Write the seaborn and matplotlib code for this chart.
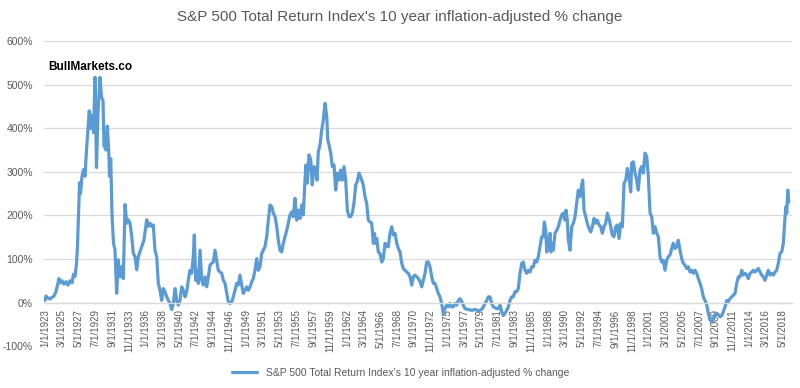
import numpy as np
import pandas as pd
import matplotlib
matplotlib.use("Agg")
import matplotlib.pyplot as plt
import seaborn as sns
from matplotlib.ticker import FuncFormatter

title = "S&P 500 Total Return Index's 10 year inflation-adjusted % change"
series_name = "S&P 500 Total Return Index's 10 year inflation-adjusted % change"
watermark = "BullMarkets.co"

# values (decimal year, % change)
years = [
    1923.00, 1923.13, 1923.39, 1923.65, 1923.90, 1924.16, 1924.42, 1924.62, 1924.81, 1924.94,
    1925.20, 1925.45, 1925.71, 1925.97, 1926.23, 1926.49, 1926.68, 1926.88, 1927.07, 1927.20,
    1927.33, 1927.46, 1927.59, 1927.78, 1927.97, 1928.17, 1928.36, 1928.56, 1928.72, 1928.88,
    1929.07, 1929.27, 1929.46, 1929.65, 1929.85, 1930.11, 1930.30, 1930.49, 1930.62, 1930.88,
    1931.05, 1931.23, 1931.33, 1931.49, 1931.66, 1931.85, 1932.04, 1932.26, 1932.47, 1932.69,
    1932.91, 1933.12, 1933.34, 1933.56, 1933.76, 1933.98, 1934.20, 1934.41, 1934.63, 1934.85,
    1935.05, 1935.49, 1935.79, 1936.14, 1936.35, 1936.57, 1936.79, 1936.99, 1937.21, 1937.43,
    1937.64, 1937.86, 1938.08, 1938.28, 1938.50, 1938.72, 1938.93, 1939.15, 1939.37, 1939.58,
    1939.80, 1940.02, 1940.22, 1940.44, 1940.66, 1940.87, 1941.09, 1941.31, 1941.51, 1941.73,
    1941.95, 1942.16, 1942.29, 1942.47, 1942.60, 1942.81, 1943.03, 1943.25, 1943.45, 1943.67,
    1943.89, 1944.10, 1944.32, 1944.54, 1944.74, 1944.96, 1945.18, 1945.39, 1945.61, 1945.83,
    1946.04, 1946.26, 1946.48, 1946.68, 1946.90, 1947.12, 1947.33, 1947.55, 1947.77, 1947.97,
    1948.19, 1948.41, 1948.62, 1948.84, 1949.06, 1949.27, 1949.49, 1949.71, 1949.91, 1950.13,
    1950.35, 1950.56, 1950.78, 1951.00, 1951.20, 1951.42, 1951.64, 1951.85, 1952.07, 1952.29,
    1952.50, 1952.72, 1952.94, 1953.14, 1953.36, 1953.58, 1953.79, 1954.01, 1954.23, 1954.43,
    1954.65, 1954.87, 1955.08, 1955.30, 1955.52, 1955.73, 1955.95, 1956.17, 1956.37, 1956.59,
    1956.72, 1956.89, 1957.11, 1957.33, 1957.53, 1957.75, 1957.97, 1958.14, 1958.31, 1958.53,
    1958.75, 1958.96, 1959.18, 1959.40, 1959.53, 1959.69, 1959.91, 1960.12, 1960.34, 1960.56,
    1960.76, 1960.98, 1961.20, 1961.41, 1961.63, 1961.85, 1962.06, 1962.28, 1962.50, 1962.70,
    1962.92, 1963.14, 1963.35, 1963.57, 1963.92, 1964.12, 1964.34, 1964.56, 1964.77, 1964.99,
    1965.21, 1965.42, 1965.55, 1965.73, 1965.86, 1966.06, 1966.28, 1966.50, 1966.71, 1966.93,
    1967.15, 1967.35, 1967.57, 1967.79, 1968.00, 1968.22, 1968.44, 1968.65, 1968.87, 1969.09,
    1969.29, 1969.51, 1969.73, 1969.94, 1970.16, 1970.38, 1970.58, 1970.80, 1971.02, 1971.23,
    1971.45, 1971.67, 1971.88, 1972.10, 1972.31, 1972.52, 1972.74, 1972.96, 1973.17, 1973.39,
    1973.61, 1973.81, 1974.03, 1974.25, 1974.46, 1974.68, 1974.90, 1975.11, 1975.33, 1975.54,
    1975.75, 1975.97, 1976.19, 1976.40, 1976.62, 1976.84, 1977.04, 1977.26, 1977.69, 1978.13,
    1978.56, 1978.98, 1979.42, 1979.63, 1979.85, 1980.07, 1980.27, 1980.49, 1980.71, 1980.92,
    1981.14, 1981.36, 1981.57, 1981.79, 1982.01, 1982.21, 1982.43, 1982.65, 1982.86, 1983.08,
    1983.30, 1983.50, 1983.72, 1983.94, 1984.15, 1984.37, 1984.59, 1984.79, 1985.01, 1985.23,
    1985.44, 1985.66, 1985.88, 1986.09, 1986.31, 1986.53, 1986.73, 1986.95, 1987.17, 1987.38,
    1987.51, 1987.69, 1987.82, 1988.03, 1988.25, 1988.37, 1988.54, 1988.67, 1988.89, 1989.11,
    1989.32, 1989.54, 1989.76, 1989.96, 1990.18, 1990.31, 1990.48, 1990.61, 1990.83, 1991.05,
    1991.26, 1991.48, 1991.70, 1991.90, 1992.12, 1992.34, 1992.47, 1992.64, 1992.86, 1993.06,
    1993.28, 1993.50, 1993.71, 1993.93, 1994.15, 1994.36, 1994.58, 1994.80, 1995.00, 1995.22,
    1995.44, 1995.65, 1995.87, 1996.09, 1996.29, 1996.51, 1996.73, 1996.94, 1997.16, 1997.38,
    1997.59, 1997.81, 1998.03, 1998.24, 1998.45, 1998.67, 1998.80, 1999.01, 1999.23, 1999.45,
    1999.65, 1999.87, 2000.09, 2000.30, 2000.52, 2000.74, 2000.95, 2001.17, 2001.39, 2001.59,
    2001.81, 2002.03, 2002.24, 2002.46, 2002.68, 2002.88, 2003.10, 2003.32, 2003.53, 2003.75,
    2003.97, 2004.17, 2004.39, 2004.61, 2004.82, 2005.04, 2005.26, 2005.46, 2005.68, 2005.90,
    2006.11, 2006.33, 2006.55, 2006.76, 2006.98, 2007.20, 2007.41, 2007.63, 2007.84, 2008.05,
    2008.27, 2008.49, 2008.70, 2008.92, 2009.14, 2009.35, 2009.56, 2009.78, 2009.99, 2010.21,
    2010.43, 2010.64, 2010.86, 2011.08, 2011.28, 2011.50, 2011.72, 2011.93, 2012.15, 2012.37,
    2012.58, 2012.80, 2013.02, 2013.22, 2013.44, 2013.66, 2013.87, 2014.09, 2014.31, 2014.51,
    2014.73, 2014.95, 2015.16, 2015.38, 2015.59, 2015.80, 2016.02, 2016.24, 2016.45, 2016.67,
    2016.89, 2017.10, 2017.32, 2017.53, 2017.74, 2017.96, 2018.18, 2018.39, 2018.61, 2018.74,
    2018.83, 2018.96, 2019.09,
]

pct = [
    5, 15, 10, 8, 12, 15, 25, 40, 55, 45,
    50, 42, 48, 40, 50, 45, 65, 60, 90, 130,
    200, 275, 250, 290, 305, 290, 350, 400, 440, 400,
    430, 390, 517, 310, 440, 517, 470, 465, 360, 350,
    405, 350, 290, 330, 200, 136, 121, 21, 98, 59,
    82, 55, 225, 182, 190, 182, 152, 113, 105, 75,
    105, 128, 144, 190, 175, 182, 175, 178, 120, 105,
    44, 28, 5, 32, 25, 13, 5, -2, -16, -2,
    32, 5, -6, 5, 36, 28, 13, 25, 51, 74,
    67, 105, 155, 51, 74, 44, 120, 51, 40, 59,
    36, 59, 86, 90, 93, 120, 97, 74, 70, 67,
    51, 44, 21, 2, -2, 2, 13, 28, 44, 40,
    63, 40, 21, 28, 36, 28, 36, 48, 55, 74,
    101, 74, 82, 113, 120, 128, 151, 189, 224, 220,
    205, 197, 174, 143, 120, 116, 136, 151, 166, 182,
    201, 208, 197, 239, 189, 212, 193, 224, 201, 281,
    316, 274, 339, 328, 270, 312, 305, 281, 346, 362,
    396, 419, 457, 427, 373, 362, 343, 312, 316, 258,
    297, 281, 304, 281, 312, 281, 212, 197, 197, 205,
    228, 270, 278, 297, 281, 270, 243, 228, 189, 185,
    182, 136, 159, 136, 147, 116, 113, 93, 101, 136,
    128, 128, 159, 174, 155, 159, 136, 124, 116, 90,
    78, 74, 70, 67, 59, 40, 59, 63, 59, 55,
    48, 36, 51, 67, 93, 93, 82, 59, 44, 44,
    32, 21, 13, -2, -25, -14, -6, -10, -2, -10,
    -10, -2, -6, 5, 9, 2, -6, -14, -16, -18,
    -16, -19, -16, -10, -2, 5, 13, 13, -2, -10,
    -12, -14, -14, -6, -21, -30, -25, -18, -10, 5,
    13, 13, 25, 25, 32, 67, 90, 93, 74, 67,
    74, 70, 82, 82, 97, 93, 105, 128, 151, 151,
    185, 166, 116, 136, 159, 116, 136, 120, 159, 166,
    174, 189, 201, 205, 189, 212, 189, 143, 120, 174,
    182, 197, 228, 258, 243, 270, 281, 212, 197, 182,
    170, 162, 174, 193, 182, 189, 178, 174, 159, 174,
    182, 205, 193, 174, 155, 151, 174, 178, 147, 182,
    174, 274, 281, 308, 290, 254, 320, 323, 297, 281,
    258, 304, 312, 297, 343, 335, 289, 205, 197, 159,
    174, 159, 151, 105, 93, 97, 74, 97, 105, 109,
    124, 136, 124, 128, 143, 120, 101, 90, 86, 78,
    82, 70, 74, 67, 74, 67, 55, 44, 32, 13,
    5, -5, -25, -40, -45, -38, -30, -25, -28, -33,
    -30, -21, -10, 5, 2, 9, 13, 17, 21, 44,
    59, 59, 74, 63, 67, 63, 55, 67, 70, 74,
    70, 74, 78, 70, 63, 59, 51, 63, 74, 63,
    67, 63, 70, 74, 90, 113, 116, 136, 197, 220,
    205, 258, 231,
]

tick_labels = [
    "1/1/1923", "3/1/1925", "5/1/1927", "7/1/1929", "9/1/1931", "11/1/1933",
    "1/1/1936", "3/1/1938", "5/1/1940", "7/1/1942", "9/1/1944", "11/1/1946",
    "1/1/1949", "3/1/1951", "5/1/1953", "7/1/1955", "9/1/1957", "11/1/1959",
    "1/1/1962", "3/1/1964", "5/1/1966", "7/1/1968", "9/1/1970", "11/1/1972",
    "1/1/1975", "3/1/1977", "5/1/1979", "7/1/1981", "9/1/1983", "11/1/1985",
    "1/1/1988", "3/1/1990", "5/1/1992", "7/1/1994", "9/1/1996", "11/1/1998",
    "1/1/2001", "3/1/2003", "5/1/2005", "7/1/2007", "9/1/2009", "11/1/2011",
    "1/1/2014", "3/1/2016", "5/1/2018",
]


def label_year(s):
    m, d, y = s.split("/")
    return int(y) + (int(m) - 1) / 12


df = pd.DataFrame({"year": years, "pct": pct})

sns.set_style("white")
plt.rcParams["font.family"] = ["Liberation Sans", "DejaVu Sans"]

grey = "#595959"
blue = "#5B9BD5"

fig = plt.figure(figsize=(8, 3.88), dpi=100)
ax = fig.add_axes([0.055, 0.108, 0.935, 0.786])

sns.lineplot(data=df, x="year", y="pct", ax=ax, color=blue, linewidth=2.3,
             label=series_name)

ax.set_xlim(1922.87, 2019.51)
ax.set_ylim(-100, 600)
ax.set_yticks(np.arange(-100, 601, 100))
ax.yaxis.set_major_formatter(FuncFormatter(lambda v, p: f"{v:.0f}%"))
ax.grid(axis="y", color="#d9d9d9", linewidth=0.9)
ax.grid(axis="x", visible=False)
ax.set_axisbelow(True)

for s in ["top", "right", "left"]:
    ax.spines[s].set_visible(False)
ax.spines["bottom"].set_position(("data", 0))
ax.spines["bottom"].set_color("#d9d9d9")
ax.spines["bottom"].set_linewidth(0.9)

ax.set_xticks([label_year(t) for t in tick_labels])
ax.set_xticklabels(tick_labels, rotation=90, ha="center", va="top",
                   family=["Liberation Sans Narrow", "Liberation Sans"], fontsize=7)
ax.tick_params(axis="x", length=0, pad=5, colors=grey)
ax.tick_params(axis="y", length=0, pad=8, colors=grey, labelsize=7.5)
ax.set_xlabel("")
ax.set_ylabel("")

fig.text(0.5, 0.955, title, ha="center", va="center", fontsize=11, color=grey)
fig.text(0.06, 0.827, watermark, ha="left", va="center", fontsize=8.5,
         fontweight="bold", color="black")

ax.legend(loc="center", bbox_to_anchor=(0.501, 0.039), bbox_transform=fig.transFigure,
          frameon=False, handlelength=2.4, fontsize=7.5, labelcolor=grey)

fig.savefig("out.png", dpi=100)
